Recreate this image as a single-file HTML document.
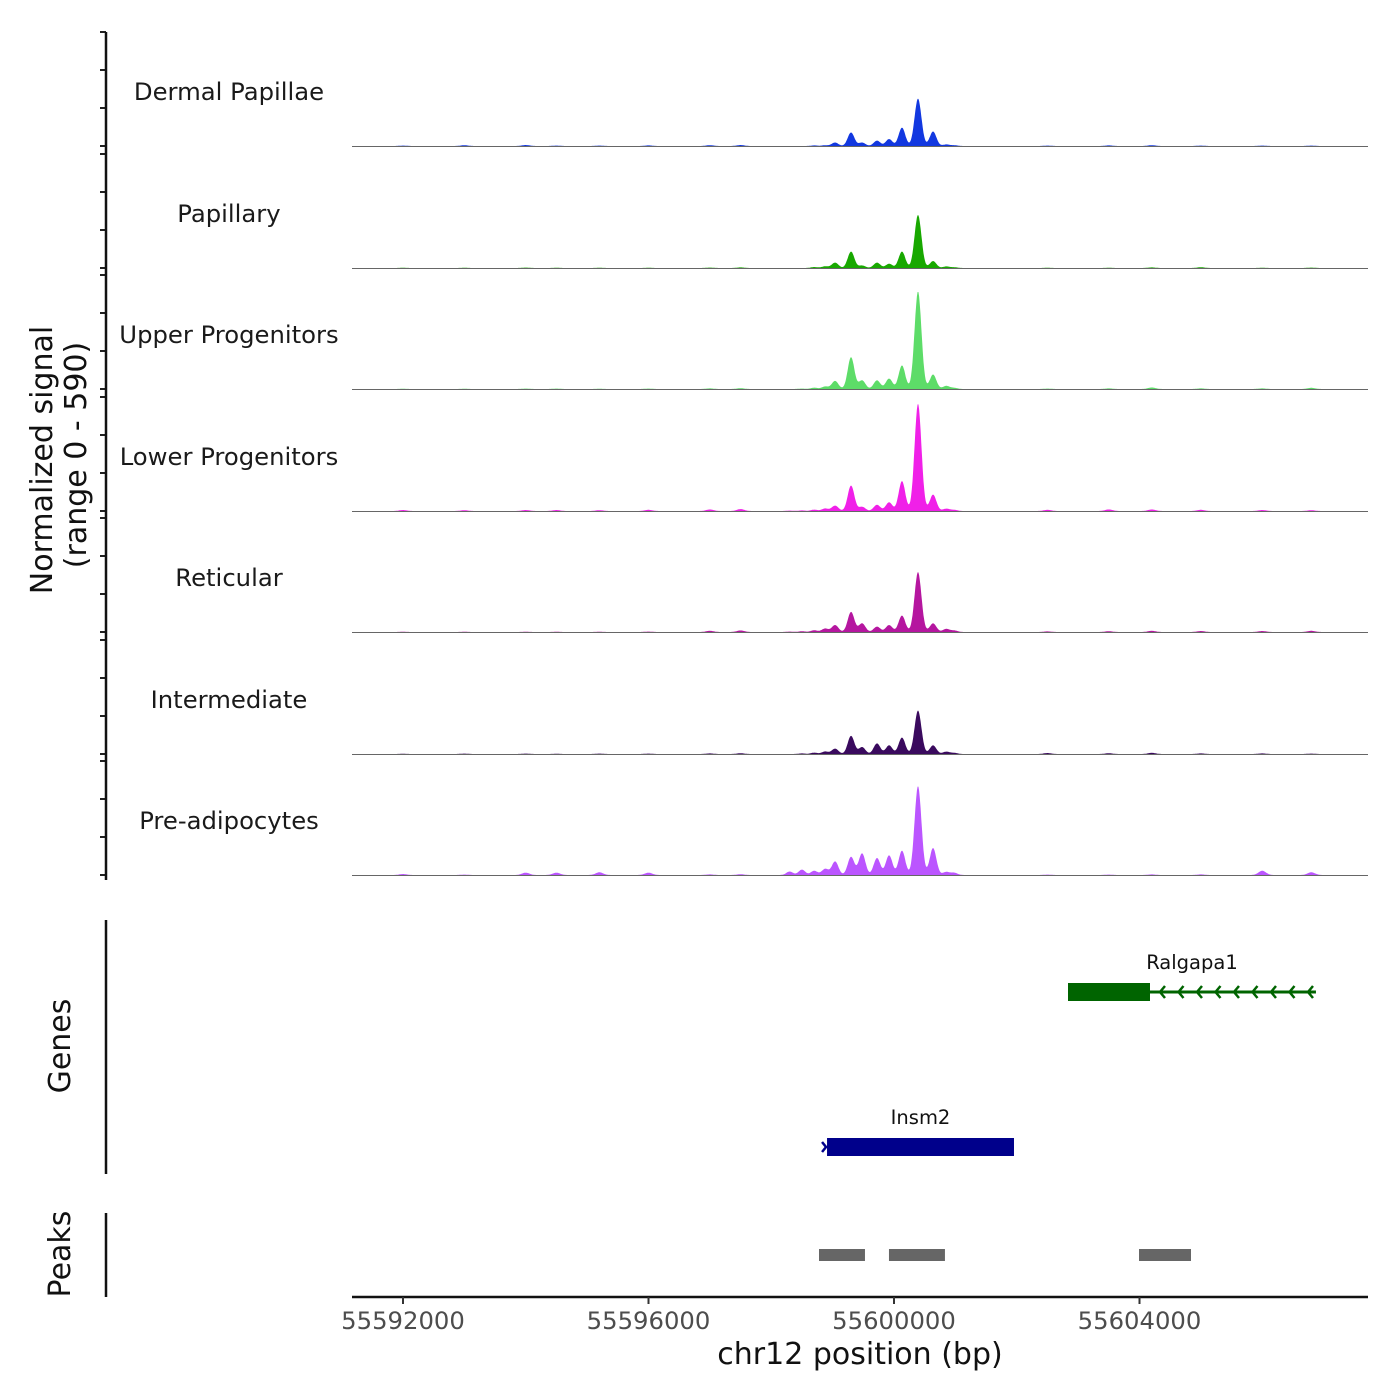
<!DOCTYPE html>
<html><head><meta charset="utf-8"><style>
body{margin:0;background:#fff}
svg{display:block;font-family:"DejaVu Sans","Liberation Sans",sans-serif}
</style></head><body>
<svg id="chart" width="1400" height="1400" viewBox="0 0 1400 1400" xmlns="http://www.w3.org/2000/svg">
<g id="tracks"></g>
<g id="genes"></g>
<g id="peaks"></g>
<g id="axes"></g>
</svg>
<script>
const trackNames=["Dermal Papillae","Papillary","Upper Progenitors","Lower Progenitors","Reticular","Intermediate","Pre-adipocytes"];
const trackColors=["#1238e0","#18a800","#5ddc68","#f020e8","#b5169f","#3a0a5e","#bb55ff"];
const peakPos=[55598300,55598500,55598700,55598878,55599040,55599300,55599480,55599723,55599920,55600130,55600391,55600636,55600850,55600980];
const dpVals=[0,0,3,4,18,70,18,28,36,95,245,75,8,4];
const papVals=[0,0,5,9,28,85,13,28,22,85,275,36,8,4];
const upVals=[0,2,7,13,42,165,45,45,54,122,505,75,16,6];
const lowVals=[2,3,7,13,28,132,22,32,45,155,555,85,12,6];
const retVals=[2,4,9,18,36,104,45,28,36,85,310,45,16,8];
const intVals=[0,3,7,13,28,94,36,55,45,85,225,45,12,6];
const preVals=[18,28,22,32,70,94,112,88,102,126,460,140,16,12];
const trackVals=[dpVals,papVals,upVals,lowVals,retVals,intVals,preVals];
const bgPos=[55592000,55593000,55594000,55594500,55595200,55596000,55597000,55597500,55602500,55603500,55604200,55605000,55606000,55606800];
const bgDP=[2,4,5,2,2,3,4,5,2,3,4,2,2,2];
const bgPap=[1,1,2,1,1,1,2,3,1,1,3,4,1,2];
const bgUp=[1,1,2,2,1,2,3,4,2,3,8,3,3,6];
const bgLow=[5,4,5,5,4,6,8,10,6,8,8,6,5,4];
const bgRet=[1,1,1,1,1,2,6,8,3,4,6,5,5,6];
const bgInt=[1,2,2,1,2,2,3,4,5,4,6,3,3,2];
const bgPre=[5,2,12,12,14,12,3,4,2,2,3,3,22,14];
const bgVals=[bgDP,bgPap,bgUp,bgLow,bgRet,bgInt,bgPre];
const xTicks=[55592000,55596000,55600000,55604000];
const genes=["Ralgapa1","Insm2"];
const geneStart=[55602835,55598909];
const geneEnd=[55604171,55601955];
const geneLineEnd=[55606875,55601955];
const geneStrand=[-1,1];
const geneColors=["#006400","#00008b"];
const peakStart=[55598778,55599918,55603992];
const peakEnd=[55599527,55600830,55604839];

const NS="http://www.w3.org/2000/svg";
function el(t,a,p){const e=document.createElementNS(NS,t);for(const k in a)e.setAttribute(k,a[k]);p.appendChild(e);return e;}
const X0=352,X1=1368,BP0=55591169,BP1=55607723,MAXV=590;
function xs(bp){return X0+(bp-BP0)/(BP1-BP0)*(X1-X0);}
const baseY=[146,268,389,511,632,754,875],PH=114;
function ys(v,i){return baseY[i]-v/MAXV*PH;}
function kern(d,s){const t=d/s;return t>3.5?0:Math.exp(-0.5*t*t);}
const tg=document.getElementById('tracks');
trackNames.forEach((nm,i)=>{
  const g=el('g',{},tg);
  
  
  let d='M'+X0+','+baseY[i];
  for(let bp=BP0;bp<=BP1;bp+=12){
    let v=0;
    peakPos.forEach((p,j)=>{v+=trackVals[i][j]*kern(Math.abs(bp-p),j===10?56:54);});
    bgPos.forEach((p,j)=>{v+=bgVals[i][j]*kern(Math.abs(bp-p),60);});
    d+=' L'+xs(bp).toFixed(1)+','+ys(v,i).toFixed(1);
  }
  d+=' L'+X1+','+baseY[i]+' Z';
  const a=el('path',{d:d,fill:trackColors[i],stroke:'none'},g);
  
  
  const b=el('line',{x1:X0,x2:X1,y1:baseY[i]+0.5,y2:baseY[i]+0.5,stroke:'#666','stroke-width':1},g);
  
  
  const t=el('text',{x:229,y:baseY[i]-46,'text-anchor':'middle','font-size':24.3,fill:'#1a1a1a'},g);
  t.textContent=nm;
  
  
  for(let k=0;k<4;k++){const y=baseY[i]-PH+k*PH/3;el('line',{x1:100,x2:106,y1:y,y2:y,stroke:'#222','stroke-width':2},g);}
});
const gg=document.getElementById('genes');
const gy=[992,1147];
genes.forEach((nm,i)=>{
  const g=el('g',{},gg);
  
  
  const c=geneColors[i];
  const ls=Math.min(geneStart[i],geneLineEnd[i]);
  el('line',{x1:xs(ls),x2:xs(geneLineEnd[i]),y1:gy[i],y2:gy[i],stroke:c,'stroke-width':3},g);
  el('rect',{x:xs(geneStart[i]),y:gy[i]-9,width:xs(geneEnd[i])-xs(geneStart[i]),height:18,fill:c},g);
  if(geneStrand[i]<0){
    for(let x=xs(geneEnd[i])+10;x<=xs(geneLineEnd[i])+1;x+=18.5)
      el('polyline',{points:(x+5)+','+(gy[i]-6)+' '+x+','+gy[i]+' '+(x+5)+','+(gy[i]+6),fill:'none',stroke:c,'stroke-width':2.5},g);
  }else{
    const x=xs(geneStart[i])-1;
    el('polyline',{points:(x-4)+','+(gy[i]-5)+' '+x+','+gy[i]+' '+(x-4)+','+(gy[i]+5),fill:'none',stroke:c,'stroke-width':2.5},g);
  }
  const t=el('text',{x:(xs(geneStart[i])+xs(i===0?geneLineEnd[i]:geneEnd[i]))/2,y:gy[i]-23,'text-anchor':'middle','font-size':19.5,fill:'#111'},g);
  t.textContent=nm;
  
  
});
const pg=document.getElementById('peaks');
peakStart.forEach((s,i)=>{
  const r=el('rect',{x:xs(s),y:1249,width:xs(peakEnd[i])-xs(s),height:12,fill:'#666'},pg);
  
  
});
const ag=document.getElementById('axes');
function line(a,n){const l=el('line',a,ag);return l;}
line({x1:106,x2:106,y1:32,y2:880,stroke:'#111','stroke-width':2.5},'y-axis-line');
line({x1:106,x2:106,y1:920,y2:1174,stroke:'#111','stroke-width':2.5},'genes-axis-line');
line({x1:106,x2:106,y1:1213,y2:1297,stroke:'#111','stroke-width':2.5},'peaks-axis-line');
line({x1:352,x2:1368,y1:1297,y2:1297,stroke:'#111','stroke-width':2.5},'x-axis-line');
xTicks.forEach(v=>{
  line({x1:xs(v),x2:xs(v),y1:1297,y2:1304,stroke:'#333','stroke-width':2},'x-tick');
  const t=el('text',{x:xs(v),y:1329,'text-anchor':'middle','font-size':24.3,fill:'#4d4d4d'},ag);
  t.textContent=v;
  
  
});
function txt(s,a,n){const t=el('text',a,ag);t.textContent=s;return t;}
txt('chr12 position (bp)',{x:860,y:1364,'text-anchor':'middle','font-size':30,fill:'#111'},'x-axis-title');
txt('Normalized signal',{x:0,y:0,transform:'translate(52,460) rotate(-90)','text-anchor':'middle','font-size':30,fill:'#111'},'y-axis-title');
txt('(range 0 - 590)',{x:0,y:0,transform:'translate(86,455) rotate(-90)','text-anchor':'middle','font-size':30,fill:'#111'},'y-axis-subtitle');
txt('Genes',{x:0,y:0,transform:'translate(70,1046) rotate(-90)','text-anchor':'middle','font-size':30,fill:'#111'},'genes-axis-title');
txt('Peaks',{x:0,y:0,transform:'translate(70,1254) rotate(-90)','text-anchor':'middle','font-size':30,fill:'#111'},'peaks-axis-title');
</script>
</body></html>
